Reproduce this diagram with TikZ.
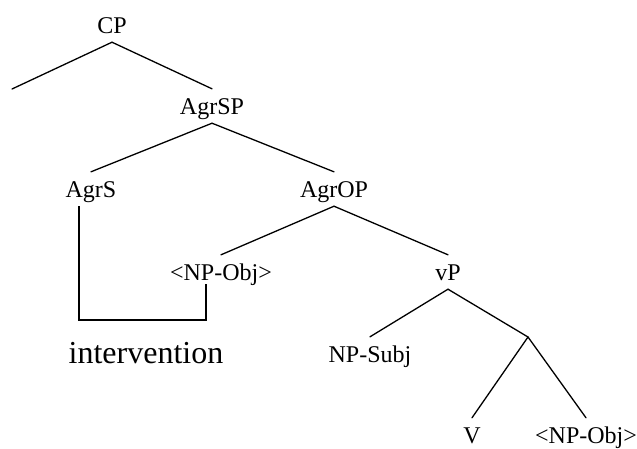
\documentclass[tikz,border=0pt]{standalone}
\usepackage{fontspec}
\setmainfont{Liberation Serif}
\begin{document}
\begin{tikzpicture}[x=1pt,y=-1pt,
  lbl/.style={anchor=base,inner xsep=2pt,inner ysep=9pt,text height=16pt,text depth=0pt,font=\fontsize{24}{28}\selectfont},
  branch/.style={line width=1.3pt,line cap=round},
  bracket/.style={line width=2.4pt}]
\useasboundingbox (0,0) rectangle (637,448);
\node[lbl] (CP) at (112,33) {CP};
\node[lbl] (AgrSP) at (212,114) {AgrSP};
\node[lbl] (AgrS) at (91,197) {AgrS};
\node[lbl] (AgrOP) at (334,197) {AgrOP};
\node[lbl] (NPobjA) at (221,280) {<NP-Obj>};
\node[lbl] (vP) at (448,280) {vP};
\node[lbl] (NPsubj) at (370,362) {NP-Subj};
\node[lbl] (V) at (472,443) {V};
\node[lbl] (NPobjB) at (586,443) {<NP-Obj>};
\node[anchor=base,inner sep=0pt,font=\fontsize{32}{36}\selectfont] (interv) at (146,363) {intervention};
\coordinate (cpL) at (12,89);
\coordinate (br) at (528,337);
\coordinate (brk) at (79,320);
\draw[branch] (CP.south) -- (cpL);
\draw[branch] (CP.south) -- (AgrSP.north);
\draw[branch] (AgrSP.south) -- (AgrS.north);
\draw[branch] (AgrSP.south) -- (AgrOP.north);
\draw[branch] (AgrOP.south) -- (NPobjA.north);
\draw[branch] (AgrOP.south) -- (vP.north);
\draw[branch] (vP.south) -- (NPsubj.north);
\draw[branch] (vP.south) -- (br);
\draw[branch] (br) -- (V.north);
\draw[branch] (br) -- (NPobjB.north);
\draw[bracket] ([xshift=-12pt]AgrS.south) -- (brk) -| ([xshift=-15pt,yshift=5pt]NPobjA.south);
\end{tikzpicture}
\end{document}
